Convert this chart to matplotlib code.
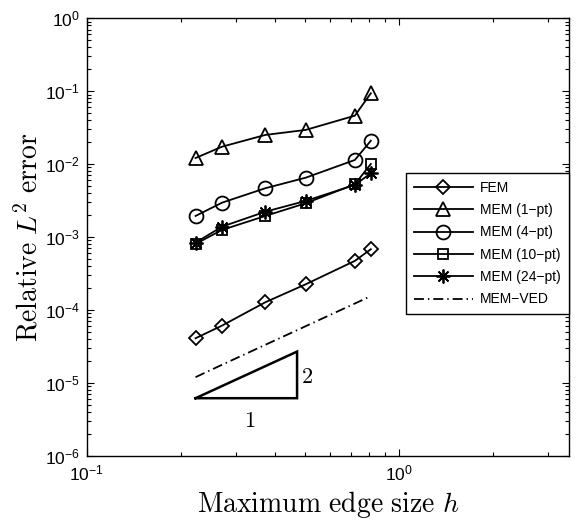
import matplotlib
matplotlib.use("Agg")
import matplotlib.pyplot as plt
from matplotlib.ticker import LogLocator, NullFormatter, FixedLocator

plt.rcParams['mathtext.fontset'] = 'custom'
plt.rcParams['mathtext.rm'] = 'Liberation Sans'
plt.rcParams['mathtext.it'] = 'Liberation Sans:italic'
plt.rcParams['mathtext.bf'] = 'Liberation Sans:bold'
plt.rcParams['font.family'] = ['Liberation Sans', 'DejaVu Sans']

# ---- data ----
h = [0.223, 0.271, 0.373, 0.502, 0.721, 0.811]
fem = [4.07e-5, 6.07e-5, 1.27e-4, 2.24e-4, 4.69e-4, 6.78e-4]
mem1 = [0.0121, 0.0173, 0.0251, 0.0294, 0.0461, 0.0936]
mem4 = [0.00194, 0.00295, 0.00466, 0.0065, 0.01138, 0.0209]
mem10 = [0.000802, 0.001247, 0.00194, 0.0029, 0.00528, 0.01003]
mem24 = [0.000835, 0.001384, 0.00222, 0.00312, 0.00517, 0.00748]
ved = [1.19e-5, 1.76e-5, 3.31e-5, 5.96e-5, 1.22e-4, 1.54e-4]
labels = ['FEM', 'MEM (1\u2212pt)', 'MEM (4\u2212pt)', 'MEM (10\u2212pt)',
          'MEM (24\u2212pt)', 'MEM\u2212VED']
x_major = [0.1, 1.0]
y_major = [1e-6, 1e-5, 1e-4, 1e-3, 1e-2, 1e-1, 1.0]
# slope triangle corners (h, error)
tri_h = [0.223, 0.471, 0.471, 0.223]
tri_e = [6.12e-6, 6.12e-6, 2.67e-5, 6.12e-6]

fig = plt.figure(figsize=(5.79, 5.23), dpi=100)
ax = fig.add_axes([0.1497, 0.129, 0.982 - 0.1497, 0.965 - 0.129])

lw = 1.3
kw = dict(color='black', lw=lw, mfc='none', mec='black', mew=1.3)
ax.plot(h, fem, marker='D', ms=7.5, label=labels[0], **kw)
ax.plot(h, mem1, marker='^', ms=10, label=labels[1], **kw)
ax.plot(h, mem4, marker='o', ms=10, label=labels[2], **kw)
ax.plot(h, mem10, marker='s', ms=7.5, label=labels[3], **kw)
ax.plot(h, mem24, marker=(8, 2, 0), ms=10, label=labels[4], **kw)
ln, = ax.plot(h, ved, color='black', lw=lw, label=labels[5])
ln.set_dashes((5.5, 2.2, 0.8, 2.2))

ax.plot(tri_h, tri_e, color='black', lw=1.8, solid_joinstyle='miter')
ax.text(0.505, 1.19e-5, '$2$', math_fontfamily='cm', fontsize=16,
        ha='center', va='center')
ax.text(0.333, 2.93e-6, '$1$', math_fontfamily='cm', fontsize=16,
        ha='center', va='center')

ax.set_xscale('log')
ax.set_yscale('log')
ax.set_xlim(0.1, 3.48)
ax.set_ylim(1e-6, 1)
ax.xaxis.set_major_locator(FixedLocator(x_major))
ax.yaxis.set_major_locator(FixedLocator(y_major))
ax.yaxis.set_minor_locator(LogLocator(base=10, subs=range(2, 10), numticks=20))
ax.xaxis.set_minor_locator(LogLocator(base=10, subs=range(2, 10), numticks=20))
ax.xaxis.set_minor_formatter(NullFormatter())
ax.yaxis.set_minor_formatter(NullFormatter())

ax.tick_params(which='both', direction='in', top=True, right=True,
               labelsize=12.5, width=0.8)
ax.tick_params(which='major', length=5)
ax.tick_params(which='minor', length=3)
ax.tick_params(axis='x', pad=6)
ax.tick_params(axis='y', pad=5)
for s in ax.spines.values():
    s.set_linewidth(1.0)

ax.set_xlabel(r'$\mathrm{Maximum\ edge\ size}\ h$', math_fontfamily='cm',
              fontsize=20, labelpad=4)
ax.set_ylabel(r'$\mathrm{Relative}\ L^2\ \mathrm{error}$', math_fontfamily='cm',
              fontsize=20, labelpad=1)

leg = ax.legend(loc='upper right', bbox_to_anchor=(1.0, 0.646),
                borderaxespad=0, fontsize=10, handlelength=4.3,
                handletextpad=0.5, fancybox=False, framealpha=1,
                edgecolor='black', labelspacing=0.6, borderpad=0.55)
leg.get_frame().set_linewidth(1.0)

fig.savefig('out.png', dpi=100)
